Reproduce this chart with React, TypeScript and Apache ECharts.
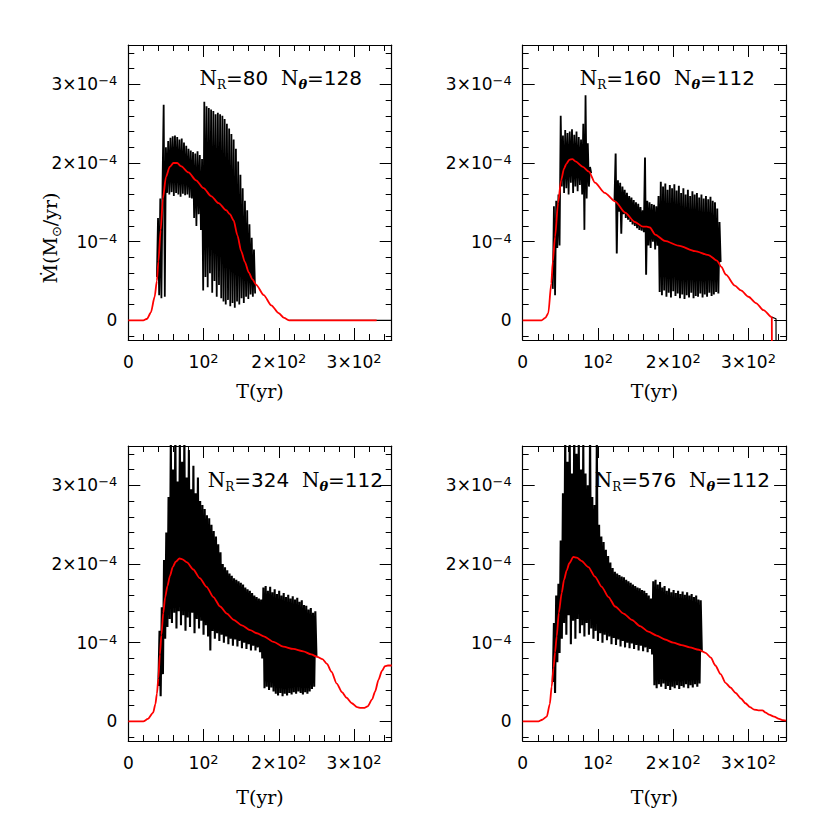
import React, { useEffect, useRef } from "react";
import * as echarts from "echarts";

// ---------- axis ticks ----------
const xMajor = [0, 100, 200, 300];
const xTickLabels = ["{b|0}", "{b|10}{p|2}", "{b|2×10}{p|2}", "{b|3×10}{p|2}"];
const xMinor = [20, 40, 60, 80, 120, 140, 160, 180, 220, 240, 260, 280, 320, 340];
const yMajor = [0, 1, 2, 3];
const yTickLabels = ["{b|0}", "{b|10}{p|−4}", "{b|2×10}{p|−4}", "{b|3×10}{p|−4}"];
const yMinor = [-0.2, 0.2, 0.4, 0.6, 0.8, 1.2, 1.4, 1.6, 1.8, 2.2, 2.4, 2.6, 2.8, 3.2, 3.4];

// ---------- panel labels ----------
const panelNR = ["80", "160", "324", "576"];
const panelNtheta = ["128", "112", "112", "112"];

// ---------- data (values in units of 1e-4 Msun/yr, time in yr) ----------
// Panel 1 (N_R=80, N_theta=128)
const p1RedT = [0, 20, 25, 30, 35, 38, 40, 43, 46, 50, 55, 60, 65, 70, 80, 90, 100, 110, 120, 130, 135, 140, 145, 150, 155, 160, 165, 170, 180, 190, 200, 207, 214, 330];
const p1RedV = [0, 0, 0.02, 0.1, 0.3, 0.5, 0.75, 1.15, 1.55, 1.82, 1.95, 2.0, 2.0, 1.96, 1.88, 1.78, 1.68, 1.58, 1.49, 1.4, 1.35, 1.27, 1.08, 0.88, 0.74, 0.61, 0.52, 0.45, 0.32, 0.19, 0.09, 0.03, 0, 0];
const p1BlackStart = 38;
const p1BlackStep = 1.5;
const p1BlackV = [
  0.55, 1.30, 0.32, 1.55, 0.28, 1.72, 2.74, 0.30, 2.20, 1.62,
  2.28, 1.60, 2.32, 1.63, 2.34, 1.58, 2.35, 1.62, 2.33, 1.60,
  2.30, 1.57, 2.31, 1.61, 2.26, 1.59, 2.22, 1.60, 2.18, 1.56,
  2.16, 1.55, 2.14, 1.30, 2.12, 1.20, 2.15, 1.35, 2.10, 1.15,
  2.05, 0.38, 2.78, 0.55, 2.72, 0.42, 2.70, 0.60, 2.68, 0.35,
  2.66, 0.50, 2.62, 0.30, 2.64, 0.45, 2.62, 0.28, 2.60, 0.24,
  2.56, 0.20, 2.50, 0.26, 2.44, 0.18, 2.37, 0.22, 2.30, 0.16,
  2.18, 0.24, 2.02, 0.20, 1.85, 0.28, 1.68, 0.22, 1.52, 0.30,
  1.40, 0.27, 1.22, 0.33, 1.05, 0.30, 0.90, 0.34,
];
const p1TailT = [214, 350];
const p1TailV = [0, 0];

// Panel 2 (N_R=160, N_theta=112)
const p2RedT = [0, 25, 30, 34, 38, 40, 43, 47, 51, 55, 58, 62, 66, 70, 80, 88, 96, 109, 123, 136, 149, 160, 165, 169, 176, 189, 207, 229, 247, 258, 264, 270, 282, 290, 300, 310, 320, 331, 331.3];
const p2RedV = [0, 0, 0.03, 0.09, 0.47, 0.75, 1.06, 1.49, 1.78, 1.93, 1.99, 2.04, 2.05, 2.02, 1.95, 1.89, 1.75, 1.62, 1.51, 1.37, 1.25, 1.19, 1.19, 1.18, 1.09, 1.01, 0.95, 0.88, 0.83, 0.76, 0.68, 0.58, 0.44, 0.38, 0.30, 0.22, 0.13, 0.04, -1];
const p2BlackAStart = 40;
const p2BlackAStep = 1.5;
const p2BlackAV = [
  0.40, 1.45, 0.32, 1.52, 0.92, 1.60, 0.95, 2.60, 1.70, 2.35,
  1.62, 2.42, 1.68, 2.38, 1.60, 2.40, 1.75, 2.43, 1.62, 2.36,
  1.70, 2.40, 1.64, 2.33, 1.72, 2.30, 1.60, 2.50, 1.15, 2.86,
  1.55, 2.25, 1.70, 1.95, 1.87,
];
const p2BlackBStart = 122;
const p2BlackBStep = 1.5;
const p2BlackBV = [
  1.52, 2.12, 0.85, 1.78, 1.38, 1.75, 1.10, 1.70, 1.35, 1.66,
  1.30, 1.62, 1.28, 1.58, 1.25, 1.56, 1.22, 1.53, 1.20, 1.50,
  1.17, 1.48, 1.15, 1.44, 1.14, 1.40, 1.12, 2.07, 0.58, 1.52,
  0.95, 1.50, 0.92, 1.48, 1.00, 1.47, 0.90, 1.45, 0.95, 1.58,
  0.36, 1.76, 0.32, 1.70, 0.38, 1.74, 0.30, 1.66, 0.35, 1.72,
  0.29, 1.68, 0.37, 1.73, 0.31, 1.65, 0.34, 1.71, 0.28, 1.62,
  0.33, 1.68, 0.27, 1.60, 0.32, 1.66, 0.29, 1.58, 0.35, 1.64,
  0.28, 1.60, 0.31, 1.62, 0.30, 1.56, 0.34, 1.60, 0.29, 1.55,
  0.33, 1.58, 0.30, 1.54, 0.35, 1.57, 0.31, 1.52, 0.33, 1.50,
  0.36, 1.42, 0.34, 1.25, 0.74,
];
const p2TailT = [331, 336.6, 336.7];
const p2TailV = [0.04, 0.02, -1];

// Panel 3 (N_R=324, N_theta=112)
const p3RedT = [0, 20, 26, 33, 36, 38, 40, 42, 44, 46.5, 49, 52, 55.4, 59, 63, 68, 72, 78, 86.4, 95, 104, 113, 122, 131, 140, 151, 162, 171, 180, 193, 206, 219, 232.6, 243, 251, 258, 264, 270, 277, 284, 290, 297, 304, 309, 313, 318, 324, 328, 332.5, 337, 341, 345, 350];
const p3RedV = [0, 0, 0.03, 0.11, 0.22, 0.35, 0.55, 0.85, 1.1, 1.38, 1.58, 1.72, 1.85, 1.96, 2.03, 2.07, 2.06, 2.02, 1.93, 1.82, 1.71, 1.58, 1.46, 1.37, 1.29, 1.22, 1.16, 1.12, 1.08, 1.01, 0.95, 0.92, 0.89, 0.85, 0.82, 0.79, 0.73, 0.63, 0.48, 0.37, 0.30, 0.23, 0.18, 0.17, 0.17, 0.19, 0.28, 0.38, 0.53, 0.64, 0.70, 0.71, 0.71];
const p3BlackStart = 40;
const p3BlackStep = 1.5;
const p3BlackV = [
  0.45, 1.15, 0.32, 1.45, 0.60, 2.05, 1.05, 2.40, 1.20, 2.85,
  1.30, 3.60, 1.25, 3.20, 1.38, 3.75, 1.18, 3.05, 1.40, 3.55,
  1.22, 3.30, 1.35, 3.65, 1.15, 3.10, 1.32, 3.45, 1.20, 2.95,
  1.38, 3.25, 1.12, 2.90, 1.30, 3.10, 1.18, 2.80, 1.28, 2.75,
  1.10, 2.70, 1.22, 2.62, 1.08, 2.58, 0.90, 2.50, 1.15, 2.42,
  1.05, 2.35, 1.12, 2.25, 1.02, 2.15, 1.10, 2.00, 1.00, 1.96,
  1.08, 1.92, 0.98, 1.88, 1.05, 1.85, 0.96, 1.82, 1.04, 1.80,
  0.95, 1.78, 1.02, 1.76, 0.93, 1.74, 1.00, 1.70, 0.92, 1.68,
  0.98, 1.66, 0.90, 1.63, 0.96, 1.60, 0.90, 1.58, 0.94, 1.56,
  0.88, 1.55, 0.80, 1.70, 0.42, 1.72, 0.44, 1.66, 0.40, 1.71,
  0.43, 1.64, 0.38, 1.68, 0.35, 1.62, 0.33, 1.66, 0.36, 1.60,
  0.32, 1.63, 0.35, 1.58, 0.33, 1.61, 0.36, 1.56, 0.34, 1.59,
  0.37, 1.55, 0.35, 1.57, 0.38, 1.52, 0.36, 1.54, 0.34, 1.48,
  0.37, 1.47, 0.35, 1.42, 0.38, 1.44, 0.41, 1.38, 0.44, 1.40,
  0.82,
];

// Panel 4 (N_R=576, N_theta=112)
const p4RedT = [0, 21, 26, 32, 36, 38.5, 41, 43, 45.2, 48, 51.8, 55, 58.5, 62, 67.3, 72, 78, 87.3, 96, 105, 114, 122.8, 134, 145, 156, 167, 178, 189, 200, 211, 222, 234, 243, 250, 256, 263, 269.5, 276, 283, 290, 296, 302, 307.5, 313, 318.5, 323, 327.4, 334, 340.7, 346, 350];
const p4RedV = [0, 0, 0.02, 0.06, 0.22, 0.44, 0.68, 0.88, 1.08, 1.38, 1.63, 1.80, 1.92, 2.01, 2.09, 2.08, 2.04, 1.96, 1.84, 1.71, 1.58, 1.46, 1.37, 1.29, 1.21, 1.14, 1.09, 1.04, 1.00, 0.97, 0.94, 0.91, 0.87, 0.81, 0.71, 0.60, 0.49, 0.43, 0.36, 0.29, 0.23, 0.18, 0.15, 0.14, 0.14, 0.11, 0.085, 0.06, 0.03, 0.015, 0.01];
const p4BlackStart = 40;
const p4BlackStep = 1.5;
const p4BlackV = [
  0.50, 1.25, 0.36, 1.60, 0.75, 1.75, 0.87, 2.30, 1.05, 2.90,
  1.25, 3.70, 1.10, 3.30, 1.35, 3.60, 0.98, 3.15, 1.28, 3.80,
  1.05, 3.40, 1.30, 3.60, 1.12, 3.20, 1.22, 3.55, 1.08, 3.15,
  1.25, 3.00, 1.10, 3.70, 1.18, 2.85, 1.05, 2.75, 1.15, 3.60,
  1.02, 2.50, 1.12, 2.35, 1.00, 2.28, 1.10, 2.18, 1.03, 2.10,
  1.08, 2.02, 0.98, 1.95, 1.06, 1.90, 0.97, 1.88, 1.04, 1.86,
  0.95, 1.84, 1.02, 1.83, 0.94, 1.80, 1.00, 1.78, 0.93, 1.76,
  0.99, 1.74, 0.92, 1.72, 0.97, 1.70, 0.90, 1.69, 0.96, 1.67,
  0.89, 1.66, 0.94, 1.63, 0.88, 1.60, 0.92, 1.56, 0.85, 1.78,
  0.46, 1.80, 0.42, 1.74, 0.47, 1.77, 0.44, 1.70, 0.48, 1.72,
  0.41, 1.66, 0.45, 1.69, 0.40, 1.64, 0.44, 1.67, 0.42, 1.63,
  0.46, 1.66, 0.41, 1.62, 0.45, 1.65, 0.43, 1.61, 0.47, 1.64,
  0.42, 1.60, 0.46, 1.62, 0.43, 1.58, 0.47, 1.60, 0.44, 1.55,
  0.48, 1.54, 0.88,
];

// ---------- helpers ----------
const SANS = "DejaVu Sans";
const SERIF = "DejaVu Serif";

const zip = (ts: number[], vs: number[]) => ts.map((t, i) => [t, vs[i]]);
const sampled = (t0: number, dt: number, vs: number[]) => vs.map((v, i) => [t0 + i * dt, v]);

const gridBoxes = [
  { left: 128.3, top: 45, width: 263.4, height: 295 },
  { left: 522.7, top: 45, width: 263.4, height: 295 },
  { left: 128.3, top: 446, width: 263.4, height: 295 },
  { left: 522.7, top: 446, width: 263.4, height: 295 },
];
const nameGaps = [41, 41, 46, 46];

const lineBlack = { color: "#000", width: 1 };
const frameLine = { show: true, onZero: false, lineStyle: { color: "#000", width: 1.2 } };
const noLine = { show: false, onZero: false };

const labelRich = {
  b: { fontFamily: SANS, fontSize: 17, lineHeight: 20, color: "#000" },
  p: { fontFamily: SANS, fontSize: 13, lineHeight: 13, verticalAlign: "top", color: "#000" },
};

function makeXAxes(g: number) {
  const base = { gridIndex: g, type: "value", min: 0, max: 350, splitLine: { show: false } };
  const major = { show: true, inside: true, length: 12, customValues: xMajor, lineStyle: lineBlack };
  const minor = { show: true, inside: true, length: 6, customValues: xMinor, lineStyle: lineBlack };
  return [
    {
      ...base,
      position: "bottom",
      axisLine: frameLine,
      axisTick: major,
      axisLabel: {
        show: true,
        customValues: xMajor,
        formatter: (v: number) => xTickLabels[xMajor.indexOf(v)] ?? "",
        margin: 12,
        rich: labelRich,
      },
      name: "T(yr)",
      nameLocation: "middle",
      nameGap: nameGaps[g],
      nameTextStyle: { color: "#000", fontFamily: SERIF, fontSize: 19 },
    },
    { ...base, position: "bottom", axisLine: noLine, axisTick: minor, axisLabel: { show: false } },
    { ...base, position: "top", axisLine: frameLine, axisTick: major, axisLabel: { show: false } },
    { ...base, position: "top", axisLine: noLine, axisTick: minor, axisLabel: { show: false } },
  ];
}

function makeYAxes(g: number) {
  const base = { gridIndex: g, type: "value", min: -0.25, max: 3.5, splitLine: { show: false } };
  const major = { show: true, inside: true, length: 12, customValues: yMajor, lineStyle: lineBlack };
  const minor = { show: true, inside: true, length: 6, customValues: yMinor, lineStyle: lineBlack };
  return [
    {
      ...base,
      position: "left",
      axisLine: frameLine,
      axisTick: major,
      axisLabel: {
        show: true,
        customValues: yMajor,
        formatter: (v: number) => yTickLabels[yMajor.indexOf(v)] ?? "",
        margin: 11,
        rich: labelRich,
      },
    },
    { ...base, position: "left", axisLine: noLine, axisTick: minor, axisLabel: { show: false } },
    { ...base, position: "right", axisLine: frameLine, axisTick: major, axisLabel: { show: false } },
    { ...base, position: "right", axisLine: noLine, axisTick: minor, axisLabel: { show: false } },
  ];
}

function blackSeries(g: number, data: number[][], width = 1.7) {
  return {
    type: "line",
    xAxisIndex: g * 4,
    yAxisIndex: g * 4,
    data,
    symbol: "none",
    showSymbol: false,
    clip: true,
    z: 2,
    lineStyle: { color: "#000", width },
    itemStyle: { color: "#000" },
  };
}

function redSeries(g: number, data: number[][]) {
  return {
    type: "line",
    xAxisIndex: g * 4,
    yAxisIndex: g * 4,
    data,
    symbol: "none",
    showSymbol: false,
    clip: true,
    smooth: 0.25,
    smoothMonotone: "x",
    z: 3,
    lineStyle: { color: "#ff0000", width: 1.8 },
    itemStyle: { color: "#ff0000" },
  };
}

const annotRich = {
  n: { fontFamily: SERIF, fontSize: 20, lineHeight: 26, fill: "#000" },
  d: { fontFamily: SANS, fontSize: 20, lineHeight: 26, fill: "#000" },
  s: { fontFamily: SERIF, fontSize: 12, lineHeight: 11, verticalAlign: "bottom", fill: "#000" },
  th: { fontFamily: SERIF, fontSize: 13, fontStyle: "italic", fontWeight: "bold", lineHeight: 12, verticalAlign: "bottom", fill: "#000" },
};

const annotPos = [
  { x: 362, y: 78 },
  { x: 755, y: 78 },
  { x: 383, y: 480 },
  { x: 770, y: 480 },
];

export default function App() {
  const ref = useRef<HTMLDivElement>(null);
  useEffect(() => {
    document.body.style.margin = "0";
    const chart = echarts.init(ref.current!, null, { renderer: "svg" });

    const xAxes = [0, 1, 2, 3].flatMap((g) => makeXAxes(g));
    const yAxes = [0, 1, 2, 3].flatMap((g) => makeYAxes(g));

    const series = [
      blackSeries(0, sampled(p1BlackStart, p1BlackStep, p1BlackV), 1.8),
      blackSeries(0, zip(p1TailT, p1TailV), 1.2),
      redSeries(0, zip(p1RedT, p1RedV)),
      blackSeries(1, sampled(p2BlackAStart, p2BlackAStep, p2BlackAV), 1.8),
      blackSeries(1, sampled(p2BlackBStart, p2BlackBStep, p2BlackBV), 1.9),
      blackSeries(1, zip(p2TailT, p2TailV), 1.2),
      redSeries(1, zip(p2RedT, p2RedV)),
      blackSeries(2, sampled(p3BlackStart, p3BlackStep, p3BlackV), 2.1),
      redSeries(2, zip(p3RedT, p3RedV)),
      blackSeries(3, sampled(p4BlackStart, p4BlackStep, p4BlackV), 2.1),
      redSeries(3, zip(p4RedT, p4RedV)),
    ];

    const graphic: any[] = annotPos.map((p, i) => ({
      type: "text",
      x: p.x,
      y: p.y,
      z: 10,
      style: {
        text: `{n|N}{s|R}{d|=${panelNR[i]}  }{n|N}{th|θ}{d|=${panelNtheta[i]}}`,
        rich: annotRich,
        align: "right",
        verticalAlign: "middle",
      },
    }));
    graphic.push({
      type: "text",
      x: 50,
      y: 238,
      rotation: Math.PI / 2,
      z: 10,
      style: {
        text: "{m|Ṁ(M}{sub|⊙}{m|/yr)}",
        rich: {
          m: { fontFamily: SERIF, fontSize: 19, lineHeight: 26, fill: "#000" },
          sub: { fontFamily: SANS, fontSize: 13, lineHeight: 12, verticalAlign: "bottom", fill: "#000" },
        },
        align: "center",
        verticalAlign: "middle",
      },
    });

    chart.setOption({
      animation: false,
      backgroundColor: "#fff",
      grid: gridBoxes.map((b) => ({ ...b, containLabel: false })),
      xAxis: xAxes,
      yAxis: yAxes,
      series,
      graphic,
    });
    return () => chart.dispose();
  }, []);
  return <div ref={ref} style={{ width: 830, height: 830 }} />;
}
